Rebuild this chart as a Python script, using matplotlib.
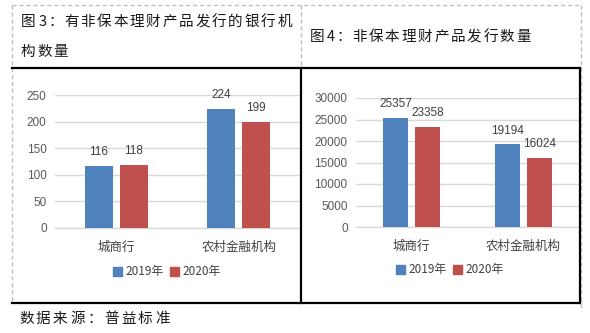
import matplotlib
matplotlib.use("Agg")
import matplotlib.pyplot as plt
from matplotlib.lines import Line2D
from matplotlib.patches import Patch
import numpy as np

plt.rcParams['font.family'] = ['Noto Sans CJK SC', 'DejaVu Sans']

# Data
categories = ["城商行", "农村金融机构"]
series_names = ["2019年", "2020年"]
banks_2019 = [116, 224]
banks_2020 = [118, 199]
products_2019 = [25357, 19194]
products_2020 = [23358, 16024]
banks_ticks = [0, 50, 100, 150, 200, 250]
products_ticks = [0, 5000, 10000, 15000, 20000, 25000, 30000]

title_left_1 = "有非保本理财产品发行的银行机"
title_left_2 = "构数量"
title_right = "非保本理财产品发行数量"
source_text = "数据来源：普益标准"

BLUE = "#4F81BD"
RED = "#C0504D"
GRID = "#D9D9D9"
TICK = "#595959"
LABEL = "#404040"

W, H = 590, 333
fig = plt.figure(figsize=(W / 100, H / 100), dpi=100)
fig.patch.set_facecolor("white")


def fx(px):
    return px / W


def fy(py):
    return 1 - py / H


def hline(x0, x1, y, **kw):
    fig.add_artist(Line2D([fx(x0), fx(x1)], [fy(y), fy(y)], transform=fig.transFigure, **kw))


def vline(x, y0, y1, **kw):
    fig.add_artist(Line2D([fx(x), fx(x)], [fy(y0), fy(y1)], transform=fig.transFigure, **kw))


# Frame: dashed outer guides and solid panel rules
dash = dict(color="#BFBFBF", lw=1.0, linestyle=(0, (3, 2)))
solid = dict(color="black", lw=1.6)
hline(12, 580, 5, **dash)
vline(12, 5, 303, **dash)
vline(300.5, 5, 68, **dash)
vline(580.5, 5, 311, **dash)
hline(12, 580, 68, **solid)
hline(12, 580, 303, **solid)
vline(300.5, 68, 303, **solid)
vline(579.5, 68, 303, **solid)


def spaced_text(x, y, chars, step=16.4, size=10.5, color="#1a1a1a"):
    for i, ch in enumerate(chars):
        fig.text(fx(x + i * step), fy(y), ch, fontsize=size, color=color,
                 ha="left", va="center")


# Titles
fig.text(fx(21), fy(22), "图", fontsize=10.5, color="#1a1a1a", va="center")
fig.text(fx(39), fy(22), "3", fontsize=10.5, color="#1a1a1a", va="center")
fig.text(fx(48), fy(22), "：", fontsize=10.5, color="#1a1a1a", va="center")
spaced_text(64, 22, title_left_1)
spaced_text(21, 52, title_left_2)

fig.text(fx(310), fy(37), "图", fontsize=10.5, color="#1a1a1a", va="center")
fig.text(fx(327), fy(37), "4", fontsize=10.5, color="#1a1a1a", va="center")
fig.text(fx(336), fy(37), "：", fontsize=10.5, color="#1a1a1a", va="center")
spaced_text(352, 37, title_right)

spaced_text(19, 319, source_text, step=17.0)


def bar_panel(left, right, top, bottom, v19, v20, ticks, width, offset, legend_xy):
    ax = fig.add_axes([fx(left), fy(bottom), fx(right) - fx(left), fy(top) - fy(bottom)])
    x = np.arange(len(categories))
    b1 = ax.bar(x - offset, v19, width, color=BLUE, zorder=3)
    b2 = ax.bar(x + offset, v20, width, color=RED, zorder=3)
    for bars, vals in ((b1, v19), (b2, v20)):
        for rect, v in zip(bars, vals):
            ax.annotate(str(v), (rect.get_x() + rect.get_width() / 2, v),
                        xytext=(0, 10), textcoords="offset points",
                        ha="center", va="center", fontsize=8.5, color=LABEL,
                        family=["Liberation Sans", "DejaVu Sans"])
    ax.set_xlim(-0.5, len(categories) - 0.5)
    ax.set_ylim(ticks[0], ticks[-1])
    ax.set_yticks(ticks)
    ax.set_yticklabels([str(t) for t in ticks], fontsize=8.5, color=TICK,
                       family=["Liberation Sans", "DejaVu Sans"])
    ax.set_xticks(x)
    ax.set_xticklabels(categories, fontsize=9, color=LABEL)
    ax.tick_params(axis="both", length=0)
    ax.tick_params(axis="y", pad=6)
    ax.tick_params(axis="x", pad=9)
    ax.grid(axis="y", color=GRID, lw=1.0, zorder=0)
    for s in ("top", "right", "left"):
        ax.spines[s].set_visible(False)
    ax.spines["bottom"].set_color(GRID)
    ax.spines["bottom"].set_linewidth(1.0)
    handles = [Patch(color=BLUE, label=series_names[0]),
               Patch(color=RED, label=series_names[1])]
    fig.legend(handles=handles, loc="center",
               bbox_to_anchor=(fx(legend_xy[0]), fy(legend_xy[1])),
               ncol=2, frameon=False, fontsize=8.5, handlelength=0.75,
               handleheight=0.75, handletextpad=0.3, columnspacing=0.5,
               labelcolor=LABEL)
    return ax


bar_panel(55, 300, 95, 228, banks_2019, banks_2020, banks_ticks,
          0.229, 0.143, (167, 272))
bar_panel(356, 579, 98, 227, products_2019, products_2020, products_ticks,
          0.224, 0.143, (450, 270))

fig.savefig("out.png", dpi=100, facecolor="white")
